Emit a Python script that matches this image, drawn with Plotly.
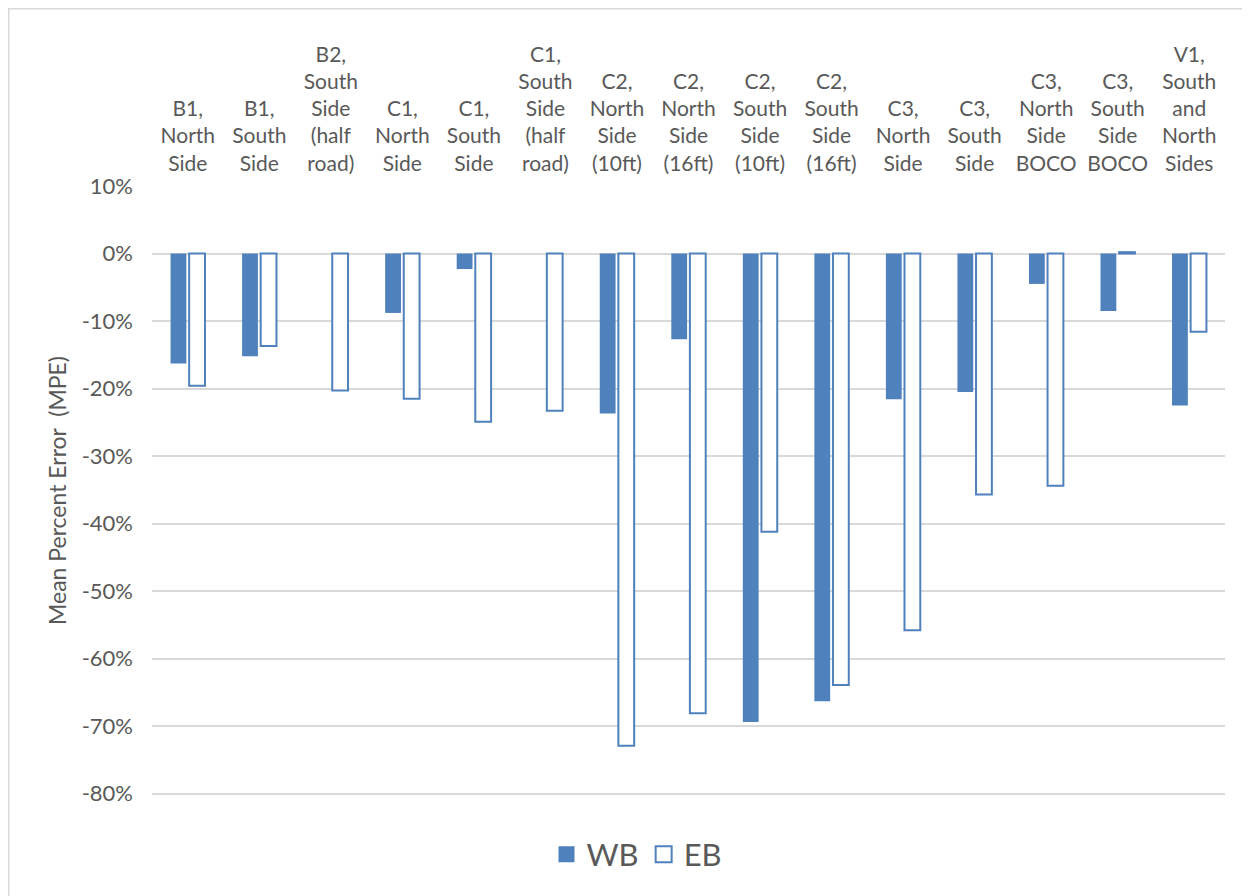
import plotly.graph_objects as go

categories = [
    "B1,<br>North<br>Side",
    "B1,<br>South<br>Side",
    "B2,<br>South<br>Side<br>(half<br>road)",
    "C1,<br>North<br>Side",
    "C1,<br>South<br>Side",
    "C1,<br>South<br>Side<br>(half<br>road)",
    "C2,<br>North<br>Side<br>(10ft)",
    "C2,<br>North<br>Side<br>(16ft)",
    "C2,<br>South<br>Side<br>(10ft)",
    "C2,<br>South<br>Side<br>(16ft)",
    "C3,<br>North<br>Side",
    "C3,<br>South<br>Side",
    "C3,<br>North<br>Side<br>BOCO",
    "C3,<br>South<br>Side<br>BOCO",
    "V1,<br>South<br>and<br>North<br>Sides",
]

wb = [-16.3, -15.2, None, -8.8, -2.3, None, -23.7, -12.7, -69.4, -66.3, -21.6, -20.5, -4.5, -8.5, -22.5]
eb = [-19.6, -13.7, -20.3, -21.5, -24.9, -23.3, -72.9, -68.1, -41.2, -63.9, -55.8, -35.7, -34.4, 0.2, -11.6]

y_ticks = [10, 0, -10, -20, -30, -40, -50, -60, -70, -80]
y_ticktext = [f"{v}%" for v in y_ticks]

BLUE = "#4f81bd"
GRAY_TEXT = "#595959"
GRID = "#d9d9d9"
FONT = "Lato"

fig = go.Figure()
fig.add_trace(go.Bar(
    name="WB", x=categories, y=wb, showlegend=False,
    marker=dict(color=BLUE, line=dict(color=BLUE, width=0)),
))
fig.add_trace(go.Bar(
    name="EB", x=categories, y=eb, showlegend=False,
    marker=dict(color="white", line=dict(color=BLUE, width=2)),
))
# legend entries with larger square symbols
fig.add_trace(go.Scatter(
    name="WB", x=[None], y=[None], mode="markers",
    marker=dict(symbol="square", size=21, color=BLUE, line=dict(color=BLUE, width=0)),
))
fig.add_trace(go.Scatter(
    name="EB", x=[None], y=[None], mode="markers",
    marker=dict(symbol="square", size=21, color="white", line=dict(color=BLUE, width=2)),
))

# page body adds an 8px offset; compensate
OFF = 8
W, H = 1250 - OFF, 896 - OFF
L, R, T, B = 152 - OFF, 25, 186 - OFF, 101
pw, ph = W - L - R, H - T - B

fig.update_layout(
    width=W, height=H,
    margin=dict(l=L, r=R, t=T, b=B, autoexpand=False),
    paper_bgcolor="white", plot_bgcolor="white",
    barmode="group", bargap=0.48, bargroupgap=0.15,
    font=dict(family=FONT, color=GRAY_TEXT, size=20),
    showlegend=True,
    legend=dict(
        orientation="h", x=0.452, xanchor="center", y=-0.098, yanchor="middle",
        font=dict(size=31, color=GRAY_TEXT, family=FONT),
        itemsizing="trace", itemwidth=30, traceorder="normal",
    ),
    xaxis=dict(
        side="top", tickangle=0, showline=False, ticks="",
        showgrid=False, automargin=False, ticklabelstandoff=10,
        tickfont=dict(size=21, color=GRAY_TEXT, family=FONT),
    ),
    yaxis=dict(
        range=[-80.2, 10], tickvals=y_ticks, ticktext=y_ticktext,
        showgrid=True, gridcolor=GRID, gridwidth=1.5,
        zeroline=False, showline=False, ticks="",
        automargin=False, ticklabelstandoff=18,
        tickfont=dict(size=22, color=GRAY_TEXT, family=FONT),
        title=dict(text="Mean Percent Error  (MPE)", standoff=8,
                   font=dict(size=23, color=GRAY_TEXT, family=FONT)),
    ),
)

# outer chart border
fig.add_shape(
    type="rect", xref="paper", yref="paper",
    x0=(0.75 - L) / pw, x1=(W + 10 - L) / pw,
    y0=-(H + 10 - T - ph) / ph, y1=(H - 0.75 - B) / ph,
    line=dict(color=GRID, width=1.5), fillcolor="rgba(0,0,0,0)",
    layer="below",
)

fig.write_html("out.html")
